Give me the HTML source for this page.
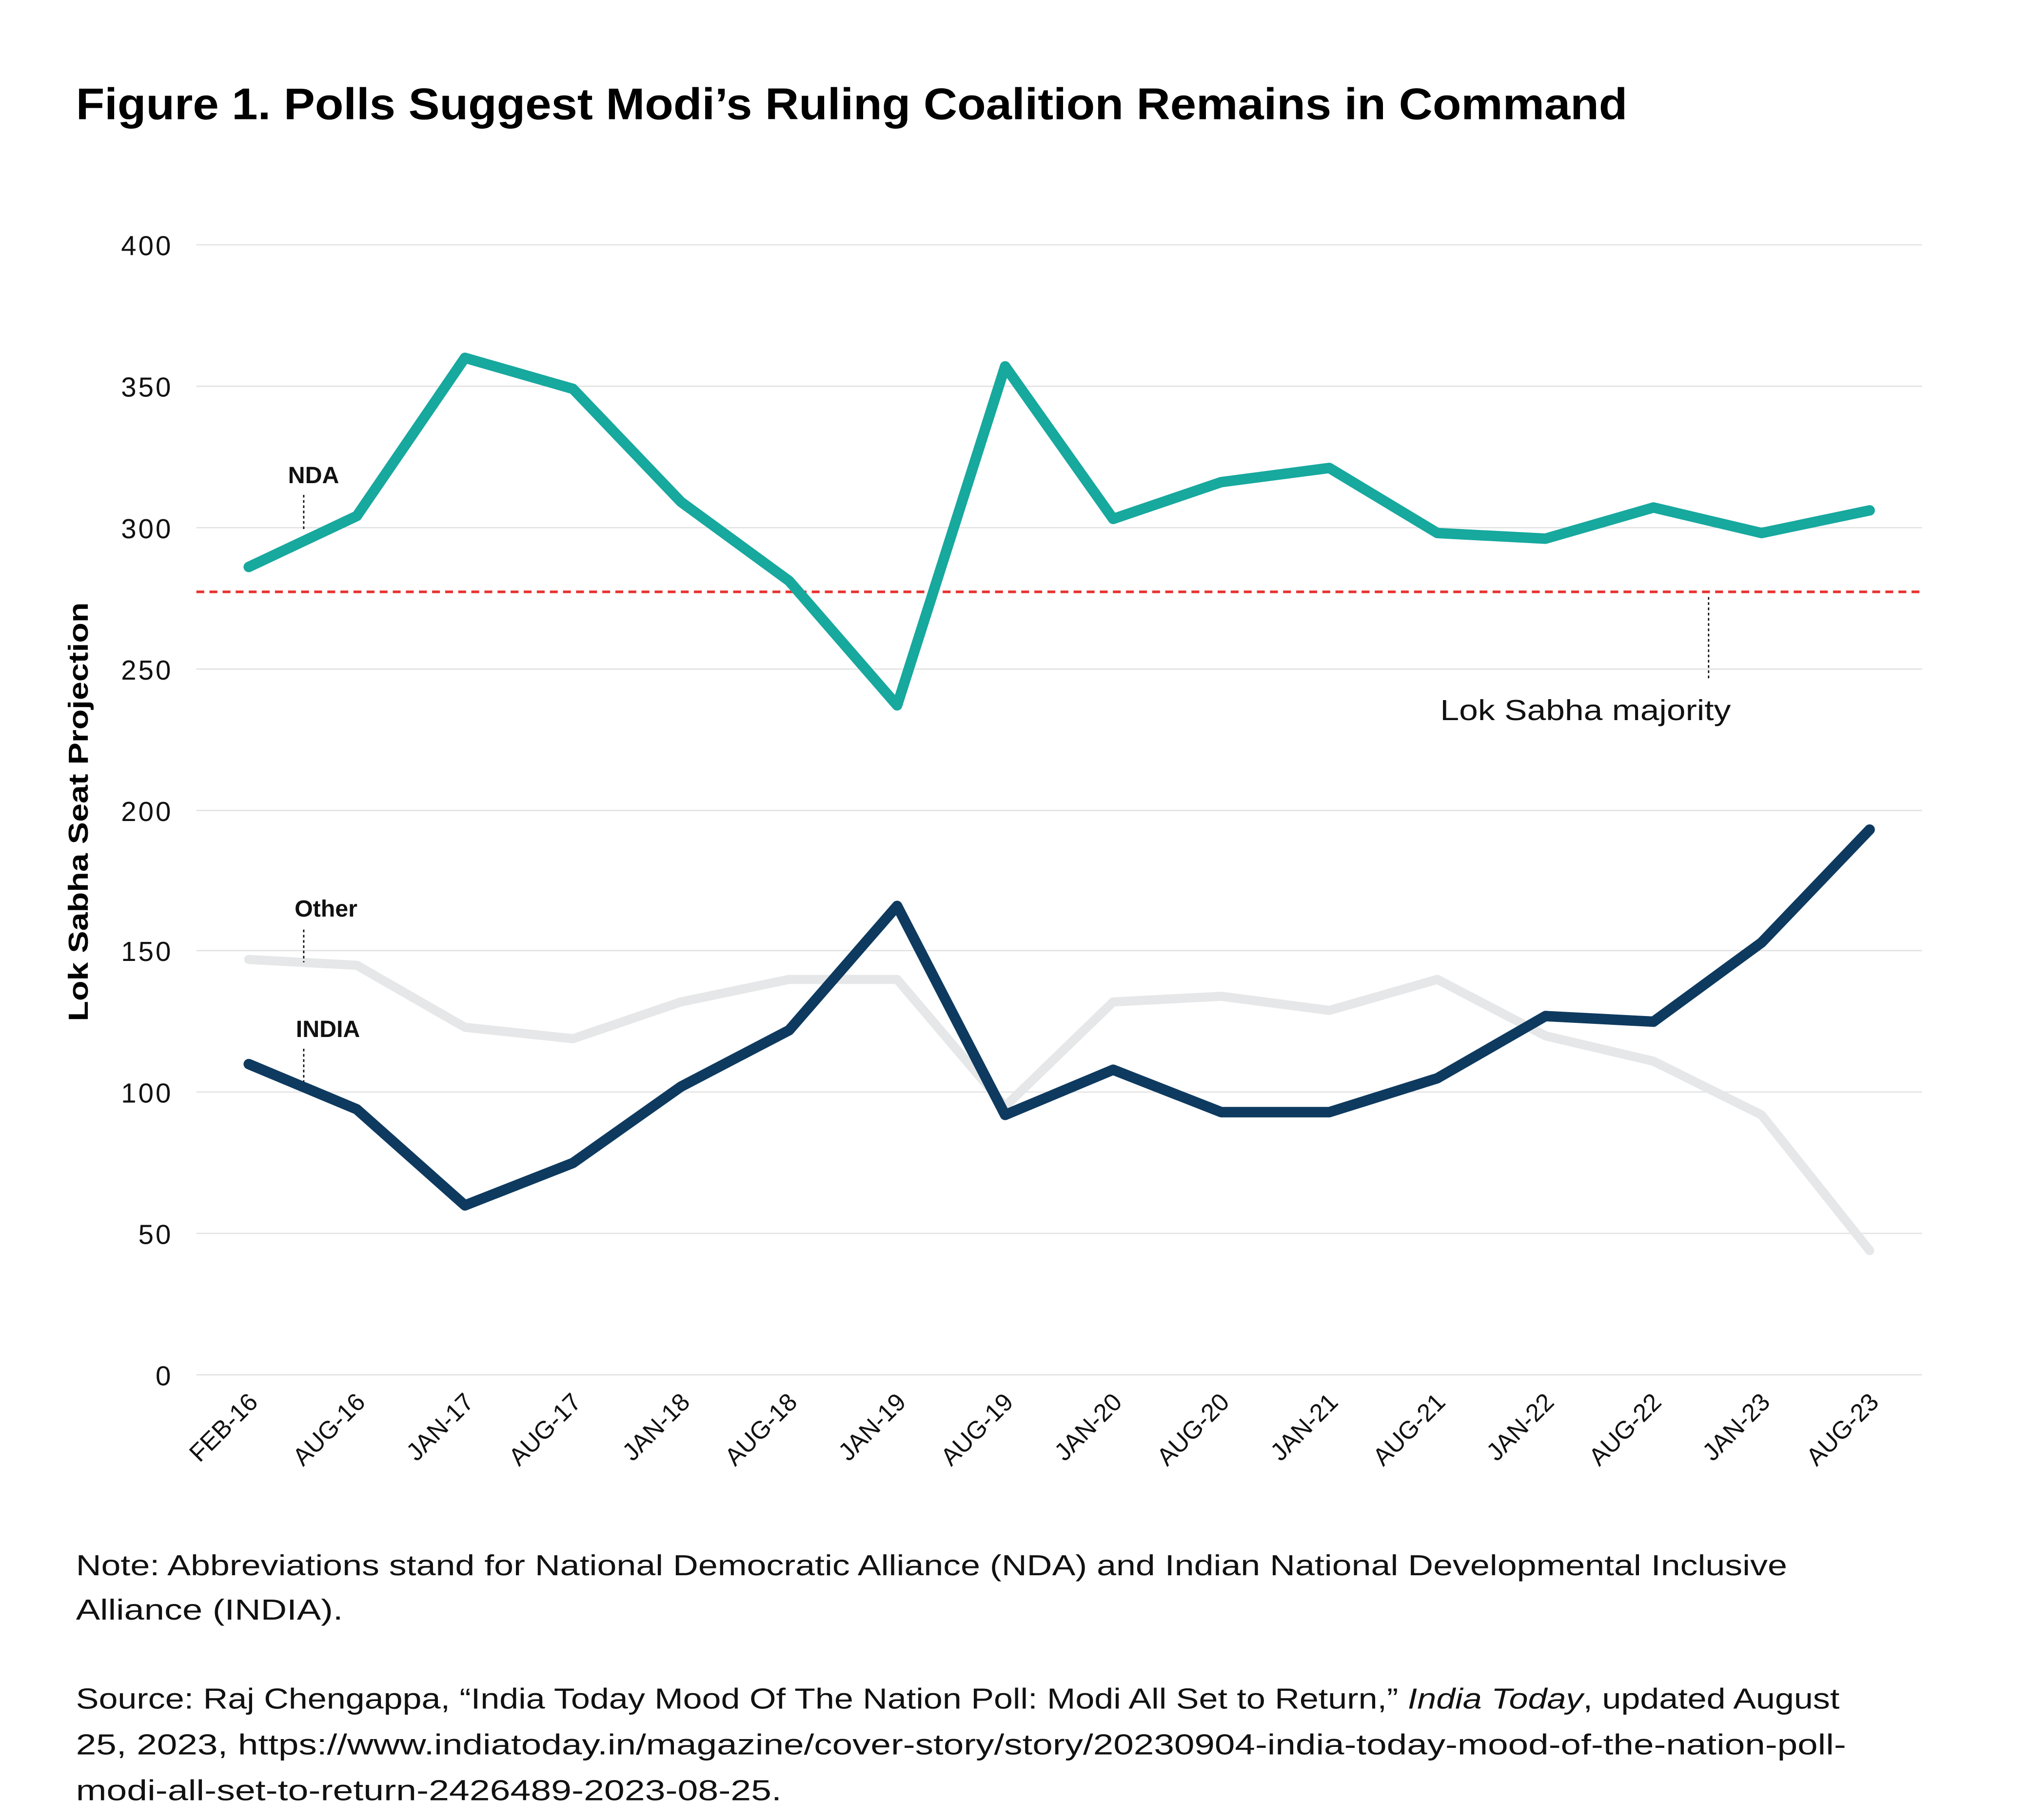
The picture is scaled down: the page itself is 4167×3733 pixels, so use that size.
<!DOCTYPE html>
<html><head><meta charset="utf-8"><style>html,body{margin:0;padding:0;background:#fff}svg{display:block}</style></head>
<body>
<svg width="4167" height="3733" viewBox="0 0 1552 1390" preserveAspectRatio="none" xmlns="http://www.w3.org/2000/svg" font-family="Liberation Sans, sans-serif">
<rect width="1552" height="1390" fill="#fff"/>
<text x="58" y="91" font-size="34" font-weight="bold" fill="#000" textLength="1185" lengthAdjust="spacingAndGlyphs">Figure 1. Polls Suggest Modi’s Ruling Coalition Remains in Command</text>
<g stroke="#e3e3e3" stroke-width="1">
<line x1="150" x2="1468" y1="187" y2="187"/><line x1="150" x2="1468" y1="295" y2="295"/>
<line x1="150" x2="1468" y1="403" y2="403"/><line x1="150" x2="1468" y1="511" y2="511"/>
<line x1="150" x2="1468" y1="619" y2="619"/><line x1="150" x2="1468" y1="726" y2="726"/>
<line x1="150" x2="1468" y1="834" y2="834"/><line x1="150" x2="1468" y1="942" y2="942"/>
<line x1="150" x2="1468" y1="1050" y2="1050"/>
</g>
<g font-size="21" fill="#111" text-anchor="end" letter-spacing="1.5">
<text x="132" y="195">400</text><text x="132" y="303">350</text><text x="132" y="411">300</text>
<text x="132" y="519">250</text><text x="132" y="627">200</text><text x="132" y="734">150</text>
<text x="132" y="842">100</text><text x="132" y="950">50</text><text x="132" y="1058">0</text>
</g>
<text transform="translate(67,620) rotate(-90)" text-anchor="middle" font-size="21" font-weight="bold" textLength="320" lengthAdjust="spacingAndGlyphs">Lok Sabha Seat Projection</text>
<g font-size="19" fill="#111" text-anchor="end">
<text transform="translate(198,1072) rotate(-45)">FEB-16</text>
<text transform="translate(280,1072) rotate(-45)">AUG-16</text>
<text transform="translate(363,1072) rotate(-45)">JAN-17</text>
<text transform="translate(445,1072) rotate(-45)">AUG-17</text>
<text transform="translate(528,1072) rotate(-45)">JAN-18</text>
<text transform="translate(610,1072) rotate(-45)">AUG-18</text>
<text transform="translate(693,1072) rotate(-45)">JAN-19</text>
<text transform="translate(775,1072) rotate(-45)">AUG-19</text>
<text transform="translate(858,1072) rotate(-45)">JAN-20</text>
<text transform="translate(940,1072) rotate(-45)">AUG-20</text>
<text transform="translate(1023,1072) rotate(-45)">JAN-21</text>
<text transform="translate(1105,1072) rotate(-45)">AUG-21</text>
<text transform="translate(1188,1072) rotate(-45)">JAN-22</text>
<text transform="translate(1270,1072) rotate(-45)">AUG-22</text>
<text transform="translate(1353,1072) rotate(-45)">JAN-23</text>
<text transform="translate(1436,1072) rotate(-45)">AUG-23</text>
</g>
<line x1="150" x2="1468" y1="452" y2="452" stroke="#e8312f" stroke-width="2" stroke-dasharray="6,4"/>
<g fill="none" stroke-linejoin="round" stroke-linecap="round">
<polyline stroke="#e6e7e8" stroke-width="7" points="190,732.8 272.5,737.2 355.1,784.6 437.6,793.3 520.1,765.2 602.7,748 685.2,748 767.7,845 850.2,765.2 932.8,760.9 1015.3,771.7 1097.8,748 1180.4,791.1 1262.9,810.5 1345.4,851.5 1428,955.1"/>
<polyline stroke="#0e3a5f" stroke-width="8" points="190,812.7 272.5,847.2 355.1,920.6 437.6,888.2 520.1,829.9 602.7,786.8 685.2,691.9 767.7,851.5 850.2,817 932.8,849.4 1015.3,849.4 1097.8,823.5 1180.4,776 1262.9,780.3 1345.4,719.9 1428,633.6"/>
<polyline stroke="#17a89e" stroke-width="8" points="190,433 272.5,394.1 355.1,273.3 437.6,297 520.1,383.3 602.7,443.7 685.2,538.7 767.7,279.8 850.2,396.3 932.8,368.2 1015.3,357.4 1097.8,407.1 1180.4,411.4 1262.9,387.6 1345.4,407.1 1428,389.8"/>
</g>
<g stroke="#000" stroke-width="1" stroke-dasharray="2,2">
<line x1="232" x2="232" y1="378" y2="405"/>
<line x1="232" x2="232" y1="710" y2="735"/>
<line x1="232" x2="232" y1="801" y2="826"/>
<line x1="1305" x2="1305" y1="456" y2="518"/>
</g>
<g font-size="18" font-weight="bold" fill="#111">
<text x="220" y="369">NDA</text>
<text x="225" y="700">Other</text>
<text x="226" y="792">INDIA</text>
</g>
<text x="1100" y="550" font-size="22" fill="#111" textLength="222" lengthAdjust="spacingAndGlyphs">Lok Sabha majority</text>
<g font-size="22" fill="#111">
<text x="58" y="1203" textLength="1307" lengthAdjust="spacingAndGlyphs">Note: Abbreviations stand for National Democratic Alliance (NDA) and Indian National Developmental Inclusive</text>
<text x="58" y="1237" textLength="204" lengthAdjust="spacingAndGlyphs">Alliance (INDIA).</text>
<text x="58" y="1305" textLength="1347" lengthAdjust="spacingAndGlyphs">Source: Raj Chengappa, “India Today Mood Of The Nation Poll: Modi All Set to Return,” <tspan font-style="italic">India Today</tspan>, updated August</text>
<text x="58" y="1340" textLength="1352" lengthAdjust="spacingAndGlyphs">25, 2023, https://www.indiatoday.in/magazine/cover-story/story/20230904-india-today-mood-of-the-nation-poll-</text>
<text x="58" y="1375" textLength="539" lengthAdjust="spacingAndGlyphs">modi-all-set-to-return-2426489-2023-08-25.</text>
</g>
</svg>
</body></html>
